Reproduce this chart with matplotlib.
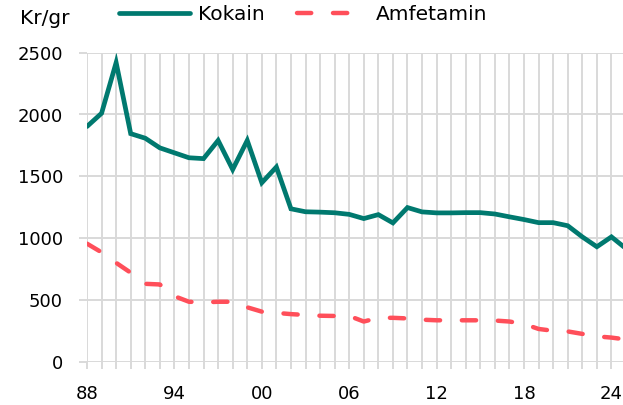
import matplotlib.pyplot as plt

# Data (kr per gram)
years = list(range(1988, 2026))
kokain = [1903, 2010, 2420, 1845, 1808, 1730, 1690, 1650, 1643, 1790,
          1555, 1790, 1448, 1575, 1237, 1213, 1210, 1205, 1192, 1158,
          1190, 1123, 1247, 1212, 1204, 1204, 1206, 1206, 1195, 1172,
          1150, 1125, 1125, 1100, 1010, 930, 1010, 915]
amfetamin = [955, 885, 800, 720, 630, 625, 530, 485, 480, 485,
             485, 440, 405, 395, 385, 378, 372, 370, 370, 325,
             355, 355, 350, 340, 335, 335, 335, 335, 333, 325,
             305, 265, 250, 245, 225, 205, 195, 180]
x_labels = [f"{y % 100:02d}" if (y - 1988) % 6 == 0 else "" for y in years]
y_ticks = [0, 500, 1000, 1500, 2000, 2500]

plt.rcParams['font.family'] = ['DejaVu Sans']
grid_col = '#d9d9d9'

fig = plt.figure(figsize=(6.23, 4.05), dpi=100)
ax = fig.add_axes([87 / 623, 1 - 361.7 / 405, 539 / 623, 309 / 405])

ax.plot(years, kokain, color='#00796f', lw=3.4, solid_capstyle='round',
        solid_joinstyle='miter', label='Kokain', zorder=3)
ax.plot(years, amfetamin, color='#ff4f5a', lw=3.2, linestyle=(0, (3.2, 4.9)),
        dash_capstyle='round', label='Amfetamin', zorder=3)

ax.set_xlim(1988, 2025)
ax.set_ylim(0, 2500)
ax.set_xticks(years)
ax.set_xticklabels(x_labels)
ax.set_yticks(y_ticks)
ax.set_yticklabels([str(v) for v in y_ticks])

ax.grid(True, color=grid_col, lw=1.4)
ax.set_axisbelow(True)
for s in ax.spines.values():
    s.set_visible(False)
ax.tick_params(axis='x', length=5, width=1.4, color=grid_col, pad=11.5, labelsize=13)
ax.tick_params(axis='y', length=5.8, width=1.4, color=grid_col, pad=11.5, labelsize=13)

fig.text(20 / 623, 1 - 19 / 405, 'Kr/gr', ha='left', va='center', fontsize=14.5)
ax.legend(loc='center left', bbox_to_anchor=(119 / 623, 1 - 15 / 405),
          bbox_transform=fig.transFigure, frameon=False, ncol=2, fontsize=14.5,
          handlelength=3.55, handletextpad=0.36, columnspacing=1.6,
          borderpad=0, borderaxespad=0)

fig.savefig('out.png', dpi=100)
